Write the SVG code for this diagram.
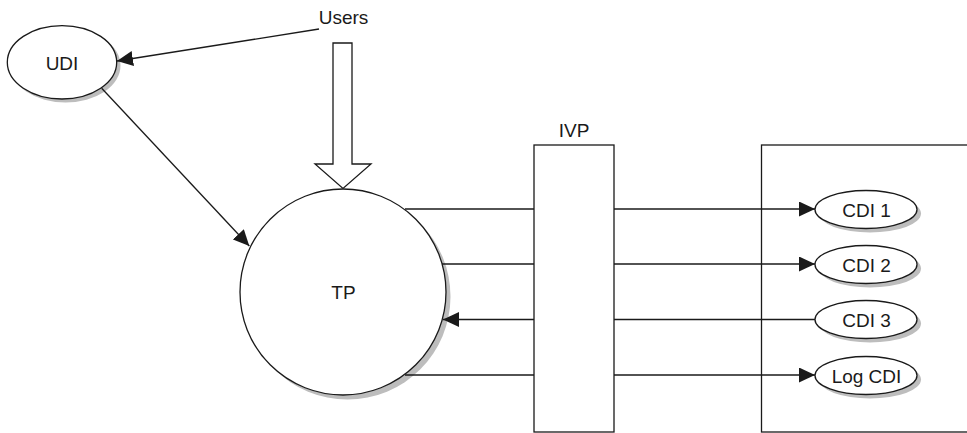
<svg xmlns="http://www.w3.org/2000/svg" width="967" height="433" viewBox="0 0 967 433">
<style>
.ln{stroke:#1a1a1a;stroke-width:1.3;fill:none}
.sh{fill:#bdbdbd;stroke:none}
.nd{fill:#fff;stroke:#1a1a1a;stroke-width:1.3}
.tx{font-family:"Liberation Sans",Arial,sans-serif;font-size:19px;fill:#1a1a1a;text-anchor:middle}
</style>
<defs>
<marker id="ah" markerWidth="16" markerHeight="15" refX="16" refY="7.5" orient="auto" markerUnits="userSpaceOnUse">
<path d="M0,0 L16,7.5 L0,15 Z" fill="#1a1a1a"/>
</marker>
</defs>
<rect width="967" height="433" fill="#fff"/>
<g id="users">
<text class="tx" x="343.5" y="24">Users</text>
</g>
<g id="udi">
<ellipse class="sh" cx="65.5" cy="65.5" rx="55" ry="37"/>
<ellipse class="nd" cx="62" cy="62.3" rx="54.7" ry="36.7"/>
<text class="tx" x="62" y="69.5">UDI</text>
</g>
<g id="tp">
<circle class="sh" cx="347.5" cy="296.5" r="103"/>
<circle class="nd" cx="343" cy="292" r="103"/>
<text class="tx" x="343.5" y="299">TP</text>
</g>
<g id="ivp">
<rect class="nd" x="534" y="145" width="80" height="287"/>
<text class="tx" x="574" y="137">IVP</text>
</g>
<g id="boundary">
<rect class="nd" x="761.5" y="145" width="230" height="287"/>
</g>
<g id="cdi1">
<ellipse class="sh" cx="870" cy="213.5" rx="51" ry="19"/>
<ellipse class="nd" cx="866" cy="209.5" rx="51" ry="19"/>
<text class="tx" x="866.5" y="216.5">CDI 1</text>
</g>
<g id="cdi2">
<ellipse class="sh" cx="870" cy="268.5" rx="51" ry="19"/>
<ellipse class="nd" cx="866" cy="264.5" rx="51" ry="19"/>
<text class="tx" x="866.5" y="271.5">CDI 2</text>
</g>
<g id="cdi3">
<ellipse class="sh" cx="870" cy="323.5" rx="51" ry="19"/>
<ellipse class="nd" cx="866" cy="319.5" rx="51" ry="19"/>
<text class="tx" x="866.5" y="326.5">CDI 3</text>
</g>
<g id="logcdi">
<ellipse class="sh" cx="870" cy="379.5" rx="51" ry="19"/>
<ellipse class="nd" cx="866" cy="375.5" rx="51" ry="19"/>
<text class="tx" x="866.5" y="382.5">Log CDI</text>
</g>
<g id="connectors">
<line class="ln" x1="319" y1="29" x2="117" y2="61" marker-end="url(#ah)"/>
<line class="ln" x1="101.7" y1="88.3" x2="249.3" y2="246" marker-end="url(#ah)"/>
<polygon class="nd" points="333,43 352,43 352,164 371,164 343,188.5 315,164 333,164"/>
<line class="ln" x1="405" y1="209" x2="534" y2="209"/>
<line class="ln" x1="442" y1="264" x2="534" y2="264"/>
<line class="ln" x1="534" y1="319.5" x2="443" y2="319.5" marker-end="url(#ah)"/>
<line class="ln" x1="405" y1="375" x2="534" y2="375"/>
<line class="ln" x1="614" y1="209" x2="815" y2="209" marker-end="url(#ah)"/>
<line class="ln" x1="614" y1="264" x2="815" y2="264" marker-end="url(#ah)"/>
<line class="ln" x1="614" y1="319.5" x2="815" y2="319.5"/>
<line class="ln" x1="614" y1="375" x2="815" y2="375" marker-end="url(#ah)"/>
</g>
</svg>
